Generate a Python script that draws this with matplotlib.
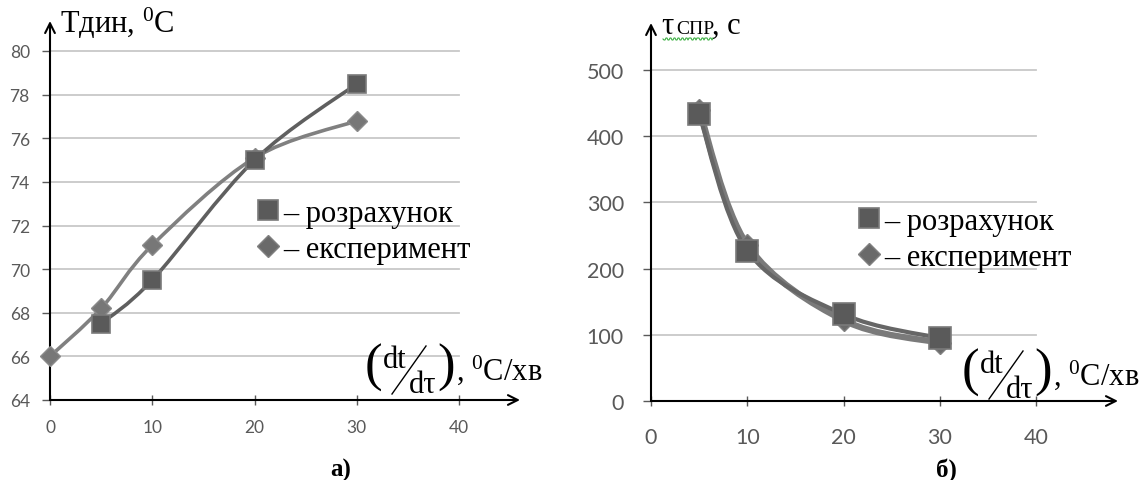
import numpy as np
import matplotlib
matplotlib.use("Agg")
import matplotlib.pyplot as plt
from matplotlib.path import Path
from matplotlib.patches import PathPatch
from matplotlib.lines import Line2D

plt.rcParams['mathtext.fontset'] = 'custom'
plt.rcParams['mathtext.rm'] = 'Liberation Serif'
plt.rcParams['mathtext.default'] = 'regular'

# ---------------- data ----------------
# (a) dynamic temperature vs heating rate
a_calc_x = [5, 10, 20, 30]
a_calc_y = [67.5, 69.5, 75.0, 78.5]
a_exp_x = [0, 5, 10, 20, 30]
a_exp_y = [66.0, 68.2, 71.1, 75.1, 76.8]
a_yticks = [64, 66, 68, 70, 72, 74, 76, 78, 80]
a_xticks = [0, 10, 20, 30, 40]

# (b) time vs heating rate
b_calc_x = [5, 10, 20, 30]
b_calc_y = [433, 227, 131, 95]
b_exp_x = [5, 10, 20, 30]
b_exp_y = [440, 236, 122, 88]
b_yticks = [0, 100, 200, 300, 400, 500]
b_xticks = [0, 10, 20, 30, 40]

legend_labels = ['– розрахунок', '– експеримент']

W, H = 1140, 481
fig = plt.figure(figsize=(W / 100, H / 100), dpi=100)


def fx(x):
    return np.asarray(x) / W


def fy(y):
    return 1 - np.asarray(y) / H


def smooth_path(xs, ys):
    pts = np.column_stack([xs, ys]).astype(float)
    n = len(pts)
    verts = [pts[0]]
    codes = [Path.MOVETO]
    for i in range(n - 1):
        p0 = pts[i - 1] if i > 0 else pts[i]
        p1 = pts[i]
        p2 = pts[i + 1]
        p3 = pts[i + 2] if i + 2 < n else pts[i + 1]
        c1 = p1 + (p2 - p0) / 6.0
        c2 = p2 - (p3 - p1) / 6.0
        verts += [c1, c2, p2]
        codes += [Path.CURVE4] * 3
    return Path(verts, codes)


TICKC = '#595959'
GRIDC = '#c8c8c8'
SERIF = 'Liberation Serif'


def setup_axes(px0, py0, xunit, yunit, x_right, y_top, ymin, xticks, yticks,
               tick_fs, xpad, ypad, xarrow_px, yarrow_px):
    """px0, py0: pixel location of data origin (x=0, y=ymin)."""
    rect = [fx(px0), fy(py0), (x_right - px0) / W, (py0 - y_top) / H]
    ax = fig.add_axes(rect)
    ax.set_xlim(0, (x_right - px0) / xunit)
    ax.set_ylim(ymin, ymin + (py0 - y_top) / yunit)
    for s in ax.spines.values():
        s.set_visible(False)
    ax.patch.set_alpha(0)
    for yt in yticks:
        if yt != ymin:
            ax.plot([0, xticks[-1]], [yt, yt], color=GRIDC, lw=1.3, zorder=1, clip_on=False)
    ax.set_xticks(xticks)
    ax.set_yticks(yticks)
    ax.tick_params(axis='both', colors=TICKC, width=1.0, labelsize=tick_fs)
    ax.tick_params(axis='x', direction='inout', length=7, pad=xpad)
    ax.tick_params(axis='y', direction='out', length=6, pad=ypad)
    for lab in ax.get_xticklabels() + ax.get_yticklabels():
        lab.set_fontfamily('Lato')
        lab.set_color(TICKC)
    xa = (xarrow_px - px0) / xunit
    ya = ymin + (py0 - yarrow_px) / yunit
    style = '->,head_length=0.7,head_width=0.35'
    ax.annotate('', xy=(xa, ymin), xytext=(0, ymin),
                arrowprops=dict(arrowstyle=style, lw=1.5, color='black', shrinkA=0, shrinkB=0),
                annotation_clip=False, zorder=3)
    ax.annotate('', xy=(0, ya), xytext=(0, ymin),
                arrowprops=dict(arrowstyle=style, lw=1.5, color='black', shrinkA=0, shrinkB=0),
                annotation_clip=False, zorder=3)
    return ax


# ---------------- panel a ----------------
axA = setup_axes(50, 401, (459 - 50) / 40.0, (401 - 52) / 16.0, 530, 18, 64,
                 a_xticks, a_yticks, 12.5, 10, 8.5, 520, 22)

axA.add_patch(PathPatch(smooth_path(a_exp_x, a_exp_y), fill=False, ec='#808080', lw=2.6,
                        zorder=4, clip_on=False))
axA.add_patch(PathPatch(smooth_path(a_calc_x, a_calc_y), fill=False, ec='#5f5f5f', lw=2.6,
                        zorder=5, clip_on=False))
axA.plot(a_exp_x, a_exp_y, ls='none', marker='D', ms=10, mfc='#777777', mec='#8a8a8a',
         mew=1, zorder=6, clip_on=False)
axA.plot(a_calc_x, a_calc_y, ls='none', marker='s', ms=13, mfc='#5a5a5a', mec='#7a7a7a',
         mew=1.2, zorder=7, clip_on=False)

# ---------------- panel b ----------------
axB = setup_axes(651, 402, (1036 - 651) / 40.0, (402 - 71) / 500.0, 1125, 20, 0,
                 b_xticks, b_yticks, 15.5, 15, 13.5, 1118, 24)

axB.add_patch(PathPatch(smooth_path(b_exp_x, b_exp_y), fill=False, ec='#7a7a7a', lw=4.5,
                        zorder=4, clip_on=False))
axB.add_patch(PathPatch(smooth_path(b_calc_x, b_calc_y), fill=False, ec='#666666', lw=3.0,
                        zorder=5, clip_on=False))
axB.plot(b_exp_x, b_exp_y, ls='none', marker='D', ms=11, mfc='#6a6a6a', mec='#808080',
         mew=1, zorder=6, clip_on=False)
axB.plot(b_calc_x, b_calc_y, ls='none', marker='s', ms=16, mfc='#5a5a5a', mec='#7a7a7a',
         mew=1.2, zorder=7, clip_on=False)


# ---------------- legends ----------------
def make_legend(ax, x_px, y_px):
    h1 = Line2D([], [], ls='none', marker='s', ms=15, mfc='#5a5a5a', mec='#7a7a7a', mew=1.2)
    h2 = Line2D([], [], ls='none', marker='D', ms=11, mfc='#6a6a6a', mec='#808080', mew=1)
    leg = ax.legend([h1, h2], legend_labels, loc='upper left',
                    bbox_to_anchor=(fx(x_px), fy(y_px)), bbox_transform=fig.transFigure,
                    frameon=False, borderpad=0, borderaxespad=0, handlelength=0.9,
                    handletextpad=0.05, labelspacing=0.22,
                    prop={'family': SERIF, 'size': 22})
    return leg


make_legend(axA, 254, 200)
make_legend(axB, 855, 208)

# ---------------- axis titles ----------------
fig.text(fx(60), fy(33), 'Tдин, $^{0}$C', family=SERIF, fontsize=22, va='baseline', ha='left')

fig.text(fx(661), fy(34), 'τ', family=SERIF, fontsize=22, va='baseline', ha='left')
fig.text(fx(676), fy(34), 'СПР', family=SERIF, fontsize=14, va='baseline', ha='left')
fig.text(fx(712), fy(34), ', с', family=SERIF, fontsize=22, va='baseline', ha='left')
# spell-check style wavy underline
wx = np.linspace(663, 713, 51)
wy = 40.0 + 1.0 * np.sign(np.sin((wx - 663) * np.pi / 2.0))
fig.add_artist(Line2D(fx(wx), fy(wy), color='#3cb043', lw=0.8))


def xlabel(dx, dy):
    # big parentheses
    fig.text(fx(365 + dx), fy(381 + dy), '(', family=SERIF, fontsize=38, va='baseline', ha='left')
    fig.text(fx(383 + dx), fy(368 + dy), 'dt', family=SERIF, fontsize=22, va='baseline', ha='left')
    fig.add_artist(Line2D([fx(392 + dx), fx(426 + dx)], [fy(395 + dy), fy(347 + dy)],
                          color='black', lw=1.0))
    fig.text(fx(409 + dx), fy(393 + dy), 'dτ', family=SERIF, fontsize=22, va='baseline', ha='left')
    fig.text(fx(437 + dx), fy(381 + dy), ')', family=SERIF, fontsize=38, va='baseline', ha='left')
    fig.text(fx(456 + dx), fy(380 + dy), ', $^{0}$C/хв', family=SERIF, fontsize=22,
             va='baseline', ha='left')


xlabel(0, 0)
xlabel(597, 5)

# ---------------- captions ----------------
fig.text(fx(341), fy(477), 'а)', family=SERIF, fontsize=18, fontweight='bold', ha='center',
         va='baseline')
fig.text(fx(946), fy(477), 'б)', family=SERIF, fontsize=18, fontweight='bold', ha='center',
         va='baseline')

fig.savefig('out.png', dpi=100)
